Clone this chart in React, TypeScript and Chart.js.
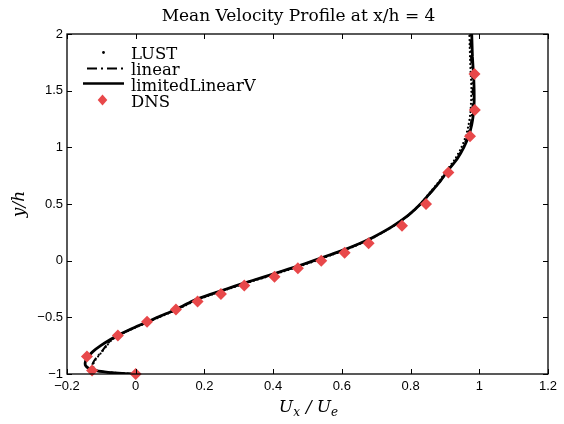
import { useEffect, useRef } from "react";
import { Chart, registerables } from "chart.js";
Chart.register(...registerables);

const titleText = "Mean Velocity Profile at x/h = 4";
const seriesNames = ["LUST", "linear", "limitedLinearV", "DNS"];

const xTickValues = [-0.2, 0, 0.2, 0.4, 0.6, 0.8, 1, 1.2];
const yTickValues = [-1, -0.5, 0, 0.5, 1, 1.5, 2];

const yLevels = [
  -1, -0.995, -0.985, -0.97, -0.95, -0.925, -0.9, -0.87, -0.84, -0.8, -0.75, -0.7,
  -0.65, -0.6, -0.55, -0.5, -0.45, -0.4, -0.35, -0.3, -0.25, -0.2, -0.15, -0.1,
  -0.05, 0, 0.05, 0.1, 0.15, 0.2, 0.3, 0.4, 0.5, 0.6, 0.7, 0.8, 0.9, 1.0, 1.1,
  1.2, 1.3, 1.4, 1.5, 1.6, 1.7, 1.8, 1.9, 2.0,
];

const xLimitedLinearV = [
  0, -0.04, -0.08, -0.115, -0.137, -0.146, -0.147, -0.144, -0.137, -0.124, -0.102, -0.076,
  -0.046, -0.012, 0.026, 0.063, 0.102, 0.137, 0.17, 0.215, 0.264, 0.313, 0.367, 0.418,
  0.47, 0.518, 0.564, 0.61, 0.65, 0.687, 0.746, 0.793, 0.829, 0.858, 0.886, 0.91, 0.936,
  0.955, 0.969, 0.978, 0.983, 0.985, 0.985, 0.984, 0.982, 0.98, 0.979, 0.978,
];

const xLinear = [
  0, -0.04, -0.085, -0.118, -0.126, -0.127, -0.124, -0.118, -0.11, -0.099, -0.086, -0.072,
  -0.045, -0.01, 0.028, 0.065, 0.104, 0.139, 0.172, 0.217, 0.266, 0.315, 0.369, 0.42,
  0.472, 0.52, 0.566, 0.612, 0.652, 0.689, 0.748, 0.794, 0.83, 0.859, 0.886, 0.91,
  0.935, 0.953, 0.966, 0.975, 0.979, 0.981, 0.981, 0.98, 0.978, 0.976, 0.975, 0.974,
];

const xLUST = [
  0, -0.035, -0.08, -0.112, -0.122, -0.124, -0.122, -0.116, -0.108, -0.097, -0.084, -0.07,
  -0.043, -0.008, 0.03, 0.068, 0.107, 0.142, 0.176, 0.221, 0.27, 0.32, 0.374, 0.425,
  0.477, 0.525, 0.57, 0.615, 0.654, 0.69, 0.747, 0.793, 0.828, 0.856, 0.883, 0.906, 0.93,
  0.948, 0.961, 0.969, 0.974, 0.976, 0.977, 0.976, 0.974, 0.973, 0.972, 0.971,
];

const dnsX = [
  0, -0.127, -0.142, -0.052, 0.033, 0.117, 0.18, 0.248, 0.316, 0.404, 0.472, 0.54, 0.608,
  0.678, 0.775, 0.845, 0.91, 0.973, 0.987, 0.986,
];
const dnsY = [
  -1.0, -0.97, -0.845, -0.66, -0.54, -0.43, -0.36, -0.294, -0.22, -0.141, -0.068, 0.0, 0.07,
  0.153, 0.309, 0.5, 0.779, 1.097, 1.33, 1.648,
];

const RED = "#e8484a";
const fmt = (v: number) => {
  const s = String(Number(v.toFixed(2)));
  return s.replace("-", "\u2212");
};

const decorPlugin = {
  id: "decor",
  afterDraw(chart: any) {
    const ctx = chart.ctx as CanvasRenderingContext2D;
    const a = chart.chartArea;
    const xs = chart.scales.x;
    const ys = chart.scales.y;
    ctx.save();
    // box
    ctx.strokeStyle = "#000";
    ctx.lineWidth = 1.3;
    ctx.setLineDash([]);
    ctx.strokeRect(a.left, a.top, a.right - a.left, a.bottom - a.top);
    // inward ticks
    ctx.lineWidth = 1;
    ctx.beginPath();
    const tl = 5;
    xs.ticks.forEach((t: any) => {
      const p = Math.round(xs.getPixelForValue(t.value)) + 0.5;
      ctx.moveTo(p, a.bottom);
      ctx.lineTo(p, a.bottom - tl);
      ctx.moveTo(p, a.top);
      ctx.lineTo(p, a.top + tl);
    });
    ys.ticks.forEach((t: any) => {
      const p = Math.round(ys.getPixelForValue(t.value)) + 0.5;
      ctx.moveTo(a.left, p);
      ctx.lineTo(a.left + tl, p);
      ctx.moveTo(a.right, p);
      ctx.lineTo(a.right - tl, p);
    });
    ctx.stroke();

    // title
    ctx.fillStyle = "#000";
    ctx.font = "17px 'DejaVu Serif'";
    ctx.textAlign = "center";
    ctx.textBaseline = "alphabetic";
    ctx.fillText(titleText, 298.5, 21);

    // x axis title: U_x / U_e
    const big = "italic 17px 'DejaVu Serif'";
    const small = "italic 12px 'DejaVu Serif'";
    const parts: [string, string, number, number][] = [
      ["U", big, 0, 0],
      ["x", small, 3.5, 6],
      ["/", big, 0, 5],
      ["U", big, 0, 0],
      ["e", small, 3.5, 0],
    ];
    let total = 0;
    parts.forEach(([t, f, , g]) => {
      ctx.font = f;
      total += ctx.measureText(t).width + g;
    });
    let cx = (a.left + a.right) / 2 + 1 - total / 2;
    ctx.textAlign = "left";
    parts.forEach(([t, f, dy, g]) => {
      ctx.font = f;
      ctx.fillText(t, cx, 412 + dy);
      cx += ctx.measureText(t).width + g;
    });

    // y axis title
    ctx.save();
    ctx.translate(24, (a.top + a.bottom) / 2);
    ctx.rotate(-Math.PI / 2);
    ctx.font = big;
    ctx.textAlign = "center";
    ctx.fillText("y/h", 0, 0);
    ctx.restore();

    // legend
    const lx0 = 83;
    const lx1 = 124;
    const tx = 131;
    const base = [58.5, 74.5, 90.5, 106.5];
    ctx.font = "16.5px 'DejaVu Serif'";
    ctx.textAlign = "left";
    seriesNames.forEach((n, i) => ctx.fillText(n, tx, base[i]));
    // LUST dot
    ctx.beginPath();
    ctx.arc((lx0 + lx1) / 2, base[0] - 6, 1.4, 0, Math.PI * 2);
    ctx.fill();
    // linear dash-dot
    ctx.lineWidth = 2;
    ctx.setLineDash([10, 4, 2, 4]);
    ctx.lineDashOffset = -4;
    ctx.beginPath();
    ctx.moveTo(lx0, base[1] - 6);
    ctx.lineTo(lx1, base[1] - 6);
    ctx.stroke();
    // limitedLinearV solid
    ctx.setLineDash([]);
    ctx.lineWidth = 2.6;
    ctx.beginPath();
    ctx.moveTo(lx0, base[2] - 7);
    ctx.lineTo(lx1, base[2] - 7);
    ctx.stroke();
    // DNS diamond
    const dx = (lx0 + lx1) / 2 - 1;
    const dyc = base[3] - 6.5;
    ctx.fillStyle = RED;
    ctx.beginPath();
    ctx.moveTo(dx, dyc - 5.5);
    ctx.lineTo(dx + 4.8, dyc);
    ctx.lineTo(dx, dyc + 5.5);
    ctx.lineTo(dx - 4.8, dyc);
    ctx.closePath();
    ctx.fill();
    ctx.restore();
  },
};

export default function App() {
  const ref = useRef<HTMLCanvasElement | null>(null);
  useEffect(() => {
    document.body.style.margin = "0";
    const canvas = ref.current!;
    const mk = (xs: number[]) => yLevels.map((y, i) => ({ x: xs[i], y }));
    const chart = new Chart(canvas, {
      type: "scatter",
      data: {
        datasets: [
          {
            label: seriesNames[3],
            data: dnsX.map((x, i) => ({ x, y: dnsY[i] })),
            pointStyle: "rectRot",
            pointRadius: 6,
            backgroundColor: RED,
            borderColor: RED,
            borderWidth: 0,
            showLine: false,
            clip: false,
            order: 0,
          } as any,
          {
            label: seriesNames[2],
            data: mk(xLimitedLinearV),
            showLine: true,
            borderColor: "#000",
            borderWidth: 2.8,
            pointRadius: 0,
            tension: 0.2,
            order: 1,
          },
          {
            label: seriesNames[1],
            data: mk(xLinear),
            showLine: true,
            borderColor: "#000",
            borderWidth: 2,
            borderDash: [8, 3, 2, 3],
            pointRadius: 0,
            tension: 0.2,
            order: 2,
          },
          {
            label: seriesNames[0],
            data: mk(xLUST),
            showLine: true,
            borderColor: "#000",
            borderWidth: 2.2,
            borderDash: [0, 4],
            borderCapStyle: "round",
            pointRadius: 0,
            tension: 0.2,
            order: 3,
          } as any,
        ],
      },
      options: {
        animation: false,
        responsive: false,
        devicePixelRatio: 1,
        layout: { padding: { top: 34, right: 16, left: 0, bottom: 0 } },
        plugins: {
          legend: { display: false },
          title: { display: false },
          tooltip: { enabled: false },
        },
        scales: {
          x: {
            type: "linear",
            min: -0.2,
            max: 1.2,
            afterBuildTicks: (s: any) => {
              s.ticks = xTickValues.map((v) => ({ value: v }));
            },
            afterFit: (s: any) => {
              s.height = 50;
            },
            grid: { display: false, drawTicks: false },
            border: { display: false },
            ticks: {
              padding: 5,
              color: "#000",
              font: { family: "'Liberation Sans'", size: 13 },
              callback: (v: any) => fmt(Number(v)),
            },
          },
          y: {
            type: "linear",
            min: -1,
            max: 2,
            afterBuildTicks: (s: any) => {
              s.ticks = yTickValues.map((v) => ({ value: v }));
            },
            afterFit: (s: any) => {
              s.width = 67;
            },
            grid: { display: false, drawTicks: false },
            border: { display: false },
            ticks: {
              padding: 4,
              color: "#000",
              font: { family: "'Liberation Sans'", size: 13 },
              callback: (v: any) => fmt(Number(v)),
            },
          },
        },
      },
      plugins: [decorPlugin],
    });
    return () => chart.destroy();
  }, []);
  return (
    <div style={{ width: 564, height: 424, background: "#fff" }}>
      <canvas ref={ref} width={564} height={424} />
    </div>
  );
}
